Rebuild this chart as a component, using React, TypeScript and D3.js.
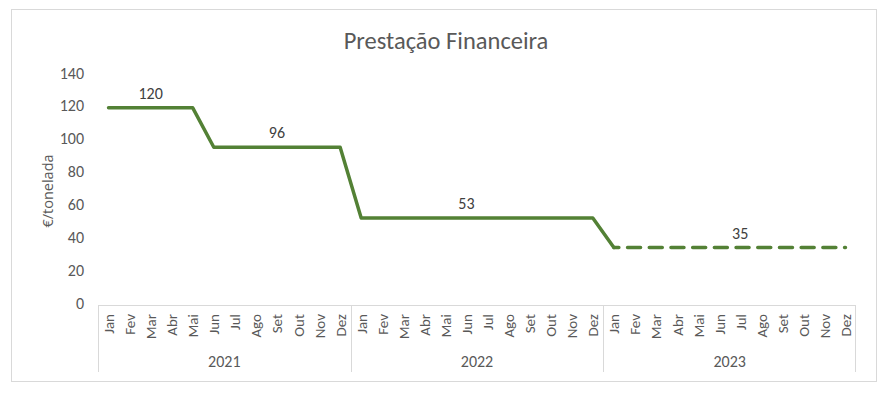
import React, { useRef, useEffect } from 'react';
import * as d3 from 'd3';

// chart data
const months = ['Jan', 'Fev', 'Mar', 'Abr', 'Mai', 'Jun', 'Jul', 'Ago', 'Set', 'Out', 'Nov', 'Dez'];
const years = ['2021', '2022', '2023'];
const values2021 = [120, 120, 120, 120, 120, 96, 96, 96, 96, 96, 96, 96];
const values2022 = [53, 53, 53, 53, 53, 53, 53, 53, 53, 53, 53, 53];
const values2023 = [35, 35, 35, 35, 35, 35, 35, 35, 35, 35, 35, 35];
const yTicks = [0, 20, 40, 60, 80, 100, 120, 140];
// data labels: [year, month, value]
const dataLabels: [string, string, number][] = [
    ['2021', 'Mar', 120],
    ['2021', 'Set', 96],
    ['2022', 'Jun', 53],
    ['2023', 'Jul', 35],
];

const W = 887;
const H = 396;
const FONT = "Calibri, Carlito, 'Liberation Sans Narrow', 'Open Sans', sans-serif";
const TEXT = '#595959';
const GREEN = '#538135';

const App = () => {
    const svgRef = useRef<SVGSVGElement>(null);

    useEffect(() => {
        const svg = d3.select(svgRef.current);
        svg.selectAll('*').remove();

        const margin = { top: 75, right: 31, bottom: 91, left: 98 };
        const plotW = W - margin.left - margin.right;
        const plotH = H - margin.top - margin.bottom;

        const rows = years.flatMap((yr, yi) =>
            months.map((m, mi) => ({
                key: `${yr}-${m}`,
                year: yr,
                month: m,
                value: [values2021, values2022, values2023][yi][mi],
            }))
        );

        const x = d3.scaleBand<string>().domain(rows.map(d => d.key)).range([0, plotW]).padding(0);
        const y = d3.scaleLinear().domain([0, 140]).range([plotH, 0]);
        const cx = (k: string) => (x(k) as number) + x.bandwidth() / 2;

        // outer border
        svg.append('rect')
            .attr('x', 11.5).attr('y', 9.5)
            .attr('width', 865).attr('height', 372)
            .attr('fill', 'white')
            .attr('stroke', '#d9d9d9');

        // title
        svg.append('text')
            .attr('x', 446).attr('y', 49)
            .attr('text-anchor', 'middle')
            .attr('font-family', FONT)
            .attr('font-size', 24.5)
            .attr('fill', TEXT)
            .text('Prestação Financeira');

        const g = svg.append('g').attr('transform', `translate(${margin.left},${margin.top})`);

        // y axis labels
        g.selectAll('.ytick')
            .data(yTicks)
            .enter().append('text')
            .attr('x', -14)
            .attr('y', d => y(d) - 2)
            .attr('dy', '0.35em')
            .attr('text-anchor', 'end')
            .attr('font-family', FONT)
            .attr('font-size', 16)
            .attr('fill', TEXT)
            .text(d => d);

        // y axis title
        g.append('text')
            .attr('transform', `translate(-45,${116}) rotate(-90)`)
            .attr('text-anchor', 'middle')
            .attr('font-family', "'Open Sans', sans-serif")
            .attr('font-size', 14.5)
            .attr('fill', TEXT)
            .text('€/tonelada');

        // category axis
        const axisColor = '#d9d9d9';
        g.append('line')
            .attr('x1', 0).attr('x2', plotW)
            .attr('y1', plotH + 0.5).attr('y2', plotH + 0.5)
            .attr('stroke', axisColor);

        const groupW = x.bandwidth() * months.length;
        years.forEach((yr, yi) => {
            const gx = Math.round(yi * groupW) + 0.5;
            g.append('line')
                .attr('x1', gx).attr('x2', gx)
                .attr('y1', plotH).attr('y2', plotH + 67)
                .attr('stroke', axisColor);
            g.append('text')
                .attr('x', yi * groupW + groupW / 2)
                .attr('y', plotH + 62)
                .attr('text-anchor', 'middle')
                .attr('font-family', FONT)
                .attr('font-size', 16)
                .attr('fill', TEXT)
                .text(yr);
        });
        g.append('line')
            .attr('x1', plotW - 0.5).attr('x2', plotW - 0.5)
            .attr('y1', plotH).attr('y2', plotH + 67)
            .attr('stroke', axisColor);

        g.selectAll('.mlabel')
            .data(rows)
            .enter().append('text')
            .attr('transform', d => `translate(${cx(d.key) + 5.5},${plotH + 9}) rotate(-90)`)
            .attr('text-anchor', 'end')
            .attr('font-family', FONT)
            .attr('font-size', 15)
            .attr('fill', TEXT)
            .text(d => d.month);

        // line
        const line = d3.line<{ key: string; value: number }>()
            .x(d => cx(d.key))
            .y(d => y(d.value));

        const solid = rows.slice(0, 25);
        const dashed = rows.slice(24);

        g.append('path')
            .datum(solid)
            .attr('fill', 'none')
            .attr('stroke', GREEN)
            .attr('stroke-width', 3.5)
            .attr('stroke-linecap', 'round')
            .attr('stroke-linejoin', 'round')
            .attr('d', line);

        g.append('path')
            .datum(dashed)
            .attr('fill', 'none')
            .attr('stroke', GREEN)
            .attr('stroke-width', 3.5)
            .attr('stroke-linecap', 'round')
            .attr('stroke-dasharray', '13 8.7')
            .attr('stroke-dashoffset', 8)
            .attr('d', line);

        // data labels
        g.selectAll('.dlabel')
            .data(dataLabels)
            .enter().append('text')
            .attr('x', d => cx(`${d[0]}-${d[1]}`))
            .attr('y', d => y(d[2]) - 9)
            .attr('text-anchor', 'middle')
            .attr('font-family', FONT)
            .attr('font-size', 16)
            .attr('fill', '#404040')
            .text(d => d[2]);
    }, []);

    return (
        <svg ref={svgRef} width={W} height={H} style={{ position: 'absolute', left: 0, top: 0 }}></svg>
    );
};

export default App;
